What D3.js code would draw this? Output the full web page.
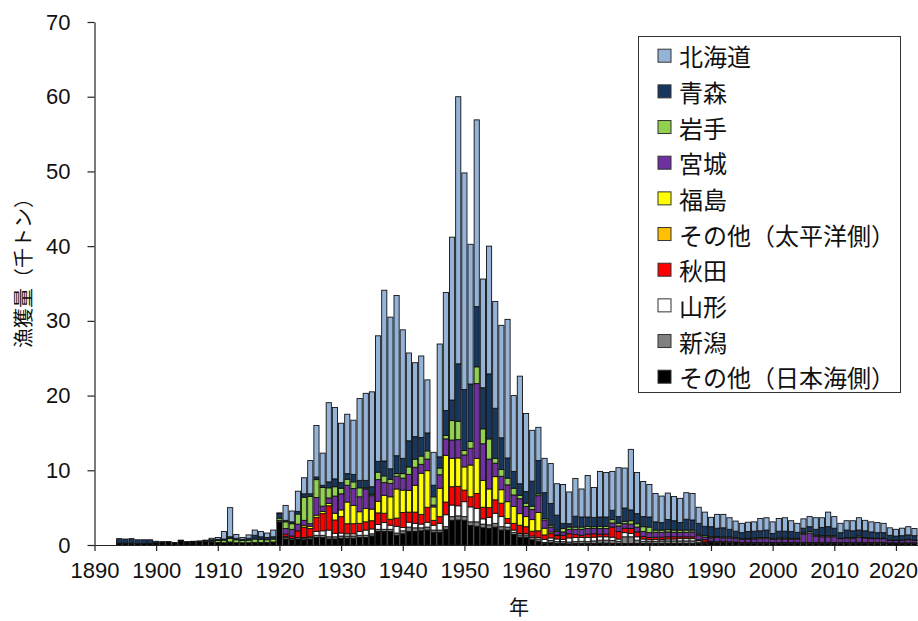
<!DOCTYPE html>
<html><head><meta charset="utf-8">
<script src="https://cdn.jsdelivr.net/npm/d3@7"></script>
<style>
html,body{margin:0;padding:0;background:#fff;}
svg{display:block;}
</style>
</head><body>
<svg id="chart" width="918" height="621"></svg>
<script>
// ---- categories ----
const years = d3.range(1894, 2024); // 1894..2023
const xTickYears = [1890,1900,1910,1920,1930,1940,1950,1960,1970,1980,1990,2000,2010,2020];
const yTickValues = [0,10,20,30,40,50,60,70];
const legendNames = ["北海道","青森","岩手","宮城","福島","その他（太平洋側）","秋田","山形","新潟","その他（日本海側）"];
const seriesColors = ["#95B3D7","#17375E","#92D050","#7030A0","#FFFF00","#FFC000","#FF0000","#FFFFFF","#808080","#000000"];

// ---- series values (thousand tonnes), 1894..2023 ----
const hokkaido = [0,0,0,0,0,0,
0,0,0,0,0,0,0,0,0,0.2,
0.25,1.0,3.9,0.5,0.25,0.45,0.7,0.7,0.6,0.9,
0.1,2.0,1.45,2.7,2.15,4.45,6.9,4.3,10.6,9.55,
7.95,7.95,7.25,10.95,11.65,12.7,16.8,22.85,20.3,21.45,
17.2,11.75,9.9,10.9,7.1,4.4,15.1,15.8,21.8,35.75,
29.0,18.7,25.0,14.55,17.1,14.3,15.05,18.55,10.15,14.4,
10.45,6.8,4.45,4.6,5.35,4.2,5.2,4.25,5.05,3.75,
5.55,4.0,6.1,5.95,5.2,6.55,5.35,8.1,5.5,4.7,
4.35,3.8,3.55,3.55,3.25,3.25,3.55,3.55,2.15,1.9,
1.25,1.85,1.8,1.55,1.35,1.25,1.25,1.25,1.65,1.65,
1.55,1.7,1.8,1.45,1.2,1.25,1.35,1.55,1.3,1.95,
1.55,1.25,1.25,1.35,1.65,1.4,1.35,1.35,1.25,1.0,
0.9,1.0,1.1,0.95];

const aomori = [0.6,0.55,0.6,0.5,0.5,0.5,
0.2,0.1,0.05,0,0.05,0.05,0,0,0.05,0.15,
0.15,0.15,0.2,0.2,0.15,0.25,0.5,0.35,0.3,0.3,
0.6,0.2,0.25,0.35,0.45,0.35,0.35,0.3,0.8,1.05,
0.75,0.75,1.0,1.0,1.0,1.0,1.45,2.0,1.4,2.4,
2.05,3.5,3.0,2.5,2.4,1.55,1.5,3.35,2.75,7.7,
8.15,7.7,8.05,5.5,8.7,6.7,4.25,2.7,2.25,1.55,
1.55,3.35,4.45,3.45,2.9,2.0,0.7,0.45,1.45,1.35,
1.25,1.25,1.25,1.25,1.25,0.9,1.8,1.45,1.35,1.35,
1.35,1.1,1.0,1.35,1.25,1.0,1.45,1.35,1.45,1.25,
1.35,1.1,1.2,1.0,0.85,0.75,0.9,0.9,0.9,1.0,
0.65,0.9,0.9,0.9,0.8,0.65,0.65,0.75,1.1,1.2,
1.0,0.75,1.0,0.9,0.8,0.9,0.8,0.75,0.75,0.65,
0.55,0.6,0.6,0.6];

const iwate = [0,0,0,0,0,0,
0,0,0,0,0,0,0.05,0.1,0.1,0.15,
0.25,0.35,0.5,0.4,0.3,0.35,0.45,0.4,0.35,0.4,
0.3,0.9,0.75,1.35,3.1,3.65,2.4,2.5,1.35,1.25,
0.75,0.8,0.9,1.2,0.15,0.2,1.0,0.9,0.55,0.35,
0.6,1.0,1.1,1.1,1.1,1.1,0.9,0.45,2.6,2.45,
0.6,0.9,2.25,2.0,2.7,0.65,0.9,0.9,0.9,0.45,
0.45,0.45,0.25,0.2,0.25,0.2,0.45,0.3,0.3,0.3,
0.3,0.25,0.3,0.3,0.45,0.35,0.3,0.45,0.45,0.65,
0.75,0.3,0.3,0.3,0.3,0.3,0.3,0.25,0.2,0.2,
0.15,0.15,0.15,0.15,0.15,0.15,0.1,0.15,0.15,0.15,
0.15,0.15,0.15,0.1,0.1,0.15,0.2,0.15,0.15,0.15,
0.15,0.05,0.15,0.15,0.2,0.1,0.1,0.05,0.05,0.05,
0.05,0.05,0.05,0.05];

const miyagi = [0,0,0,0,0,0,
0,0,0,0,0,0,0,0,0,0,
0,0,0,0,0,0,0,0,0,0,
0,0.75,0.9,0.9,0.65,0.35,2.35,0.7,0.75,2.3,
2.15,2.25,2.25,2.0,2.6,1.8,2.9,1.7,1.8,1.7,
1.6,2.15,2.4,1.2,1.55,0.25,1.8,2.2,2.45,2.45,
1.6,2.25,10.0,4.9,4.0,1.8,1.8,2.25,1.55,2.0,
1.35,1.35,2.25,1.1,0.65,0.45,0.45,0.6,0.7,0.8,
0.75,0.7,0.75,0.75,0.55,0.75,0.6,0.6,0.65,0.65,
0.65,0.65,0.65,0.65,0.6,0.6,0.6,0.65,0.55,0.35,
0.45,0.55,0.45,0.5,0.45,0.4,0.45,0.45,0.5,0.5,
0.4,0.45,0.45,0.45,0.45,1.1,1.25,0.85,0.75,0.75,
0.75,0.5,0.5,0.5,0.65,0.55,0.5,0.5,0.5,0.3,
0.3,0.3,0.4,0.3];

const fukushima = [0,0,0,0,0,0,
0,0,0,0,0,0,0,0,0,0,
0,0,0.1,0,0,0,0,0,0,0,
0,0,0,0,0.25,0.3,0.3,0.3,0.3,0.9,
0.9,2.9,2.45,1.55,1.8,1.55,1.55,2.4,3.0,3.9,
3.0,2.9,3.6,5.5,4.9,1.8,3.8,6.25,3.8,3.8,
3.1,4.25,4.7,3.6,2.5,3.1,1.8,2.25,2.25,1.55,
1.35,1.55,2.45,0.9,0.2,0.1,0,0,0,0,
0,0,0,0,0,0,0,0,0,0,
0,0,0,0,0,0,0,0,0,0,
0,0,0,0,0,0,0,0,0,0,
0,0,0,0,0,0,0,0,0,0,
0,0,0,0,0,0,0,0,0,0,
0,0,0,0];

const otherPacific = [0,0,0,0,0,0,
0,0,0,0,0,0,0,0,0,0,
0,0,0,0,0,0,0,0,0,0,
0,0,0,0,0,0,0,0,0,0,
0,0,0,0,0,0,0,0,0,0,
0,0,0,0,0,0,0,0,0,0,
0,0,0,0,0,0,0,0,0,0,
0,0,0,0,0,0,0,0,0,0,
0,0,0,0,0,0,0,0,0,0,
0,0,0,0,0,0,0,0,0,0,
0,0,0,0,0,0,0,0,0,0,
0,0,0,0,0,0,0,0,0,0,
0,0,0,0,0,0,0,0,0,0,
0,0,0,0];

const akita = [0,0,0,0,0,0,
0,0,0,0,0,0,0,0,0,0,
0,0,0,0,0,0,0,0,0,0,
0,0.3,0.3,0.9,1.4,1.1,1.9,2.3,3.25,1.8,
2.2,1.35,1.35,1.1,1.1,1.1,1.55,1.25,0.8,1.1,
2.0,1.35,1.5,1.3,2.0,0.65,0.9,1.7,2.45,2.6,
1.55,1.35,2.0,1.55,1.3,1.8,1.8,0.65,0.9,1.1,
0.9,0.65,0.9,0.6,0.6,0.45,0.55,0.55,0.4,0.3,
0.45,0.45,0.35,0.35,1.35,1.0,0.6,0.65,0.65,0.35,
0.3,0.3,0.3,0.3,0.3,0.25,0.25,0.25,0.1,0.3,
0.1,0,0,0,0,0,0,0,0,0,
0,0,0,0,0,0,0,0,0,0,
0,0,0,0,0,0,0,0,0,0,
0,0,0,0];

const yamagata = [0,0,0,0,0,0,
0,0,0,0,0,0,0,0,0,0,
0,0,0,0,0,0,0,0,0,0,
0,0.15,0,0,0.1,0.1,0.5,0.6,0.9,0.45,
0.4,0.3,0.3,0.5,0.7,0.65,0.65,0.9,0.55,0.9,
0.45,0.65,0.6,0.5,0.65,0.65,0.9,1.6,1.55,1.35,
2.0,2.0,1.8,0.7,1.0,1.35,1.35,0.5,0.3,0.2,
0.2,0.2,0.2,0.4,0.35,0.35,0.3,0.55,0.55,0.5,
0.55,0.5,0.45,0.45,0.45,0.3,0.55,0.45,0.45,0.3,
0.25,0.25,0.2,0.25,0.25,0.3,0.3,0.3,0.2,0.05,
0,0,0,0,0,0,0,0,0,0,
0,0,0,0,0,0,0,0,0,0,
0,0,0,0,0,0,0,0,0,0,
0,0,0,0];

const niigata = [0,0,0,0,0,0,
0,0,0,0,0,0,0,0,0,0,
0,0,0,0,0,0,0,0,0,0,
0.2,0.2,0.2,0.2,0.2,0.2,0.3,0.3,0.3,0.3,
0.3,0.3,0.3,0.3,0.3,0.3,0.3,0.3,0.3,0.3,
0.4,0.6,0.5,0.4,0.4,0.3,0.3,0.35,0.5,0.55,
0.5,0.5,0.6,0.5,0.5,0.5,0.45,0.4,0.3,0.3,
0.3,0.3,0.3,0.1,0.3,0.25,0.25,0.25,0.25,0.3,
0.25,0.35,0.4,0.4,0.4,0.3,0.9,0.9,0.45,0.3,
0.25,0.3,0.35,0.35,0.35,0.35,0.35,0.35,0.2,0.15,
0.1,0.15,0.15,0.15,0.1,0.1,0.1,0.1,0.1,0.1,
0.1,0.1,0.1,0.1,0.1,0.1,0.1,0.1,0.1,0.1,
0.1,0.1,0.1,0.1,0.1,0.1,0.1,0.1,0.1,0.1,
0.1,0.1,0.1,0.1];

const otherJapanSea = [0.25,0.25,0.25,0.2,0.2,0.2,
0.3,0.35,0.4,0.35,0.6,0.4,0.45,0.45,0.5,0.4,
0.35,0.3,0.3,0.3,0.3,0.3,0.35,0.35,0.35,0.4,
3.1,0.8,0.7,0.8,0.7,0.8,1.0,1.0,0.8,0.8,
0.9,0.9,0.9,1.0,1.0,1.2,1.8,1.8,1.8,1.3,
1.5,1.8,1.8,1.9,2.0,1.7,1.7,2.1,3.3,3.35,
3.3,2.6,2.5,2.3,2.2,2.4,2.0,2.0,1.4,1.05,
1.05,0.7,0.5,0.25,0.3,0.2,0.2,0.15,0.2,0.2,
0.2,0.2,0.25,0.25,0.2,0.2,0.2,0.2,0.2,0.2,
0.2,0.2,0.2,0.2,0.2,0.2,0.2,0.2,0.2,0.2,
0.3,0.3,0.35,0.3,0.3,0.25,0.25,0.25,0.25,0.25,
0.25,0.25,0.25,0.25,0.25,0.25,0.25,0.25,0.25,0.25,
0.25,0.25,0.25,0.25,0.25,0.25,0.25,0.25,0.25,0.2,
0.2,0.2,0.2,0.2];

// ---- build table for the stack (legend order = top to bottom) ----
const seriesValues = [hokkaido, aomori, iwate, miyagi, fukushima, otherPacific, akita, yamagata, niigata, otherJapanSea];
const table = years.map((yr, i) => {
  const row = {year: yr};
  legendNames.forEach((n, k) => row[n] = seriesValues[k][i] || 0);
  return row;
});
const stackKeys = legendNames.slice().reverse(); // bottom first
const colorOf = {};
legendNames.forEach((n, k) => colorOf[n] = seriesColors[k]);

const svg = d3.select("#chart");
const FONT_LAT = "'Liberation Sans', Arial, sans-serif";
const FONT_JP = "'Noto Sans CJK JP', 'Noto Sans', sans-serif";

const x = d3.scaleLinear().domain([1890, 2024]).range([94.5, 920.6]);
const y = d3.scaleLinear().domain([0, 70]).range([545, 22]);
const step = x(1891) - x(1890);
const bw = step - 1.0;

// bars
const layers = d3.stack().keys(stackKeys)(table);
const gBars = svg.append("g");
layers.forEach(layer => {
  gBars.append("g")
    .attr("fill", colorOf[layer.key])
    .selectAll("rect")
    .data(layer.filter(d => d[1] - d[0] > 1e-9))
    .join("rect")
    .attr("x", d => x(d.data.year) - bw / 2)
    .attr("y", d => y(d[1]))
    .attr("width", bw)
    .attr("height", d => y(d[0]) - y(d[1]))
    .attr("stroke", "#111")
    .attr("stroke-width", 0.9);
});

// axes
const xAxis = d3.axisBottom(x).tickValues(xTickYears).tickFormat(d3.format("d"))
  .tickSize(6).tickSizeOuter(0).tickPadding(11);
const gx = svg.append("g").attr("transform", "translate(0,545)").call(xAxis);
gx.select(".domain").attr("stroke", "#222").attr("stroke-width", 1.2);
gx.selectAll(".tick line").attr("stroke", "#222").attr("stroke-width", 1.2);
gx.selectAll("text").attr("font-family", FONT_LAT).attr("font-size", 22).attr("fill", "#111");
// keep the last year label inside the window
gx.selectAll(".tick text").filter(d => d === 2020).attr("text-anchor", "end").attr("x", 21.5);

const yAxis = d3.axisLeft(y).tickValues(yTickValues).tickSize(7).tickSizeOuter(0).tickPadding(17);
const gy = svg.append("g").attr("transform", "translate(94.5,0)").call(yAxis);
gy.select(".domain").attr("stroke", "#222").attr("stroke-width", 1.2);
gy.selectAll(".tick line").attr("stroke", "#222").attr("stroke-width", 1.2);
gy.selectAll("text").attr("font-family", FONT_LAT).attr("font-size", 22).attr("fill", "#111");

// axis titles
svg.append("text")
  .attr("transform", "translate(22,268) rotate(-90)")
  .attr("text-anchor", "middle").attr("dominant-baseline", "central")
  .attr("font-family", FONT_JP).attr("font-size", 20).attr("fill", "#111")
  .text("漁獲量（千トン）");
svg.append("text")
  .attr("x", 519).attr("y", 606)
  .attr("text-anchor", "middle").attr("dominant-baseline", "central")
  .attr("font-family", FONT_JP).attr("font-size", 20).attr("fill", "#111")
  .text("年");

// legend
const lg = svg.append("g");
lg.append("rect").attr("x", 638.5).attr("y", 36.5).attr("width", 262).attr("height", 356)
  .attr("fill", "#fff").attr("stroke", "#333").attr("stroke-width", 1);
const rowY = d3.scalePoint().domain(legendNames).range([55.7, 376.7]);
const items = lg.selectAll("g.item").data(legendNames).join("g").attr("class", "item")
  .attr("transform", d => `translate(0,${rowY(d)})`);
items.append("rect").attr("x", 658).attr("y", -6.5).attr("width", 13).attr("height", 13)
  .attr("fill", d => colorOf[d]).attr("stroke", "#333").attr("stroke-width", 1);
items.append("text").attr("x", 679).attr("y", 0).attr("dominant-baseline", "central")
  .attr("font-family", FONT_JP).attr("font-size", 24).attr("fill", "#111")
  .text(d => d);
</script>
</body></html>
